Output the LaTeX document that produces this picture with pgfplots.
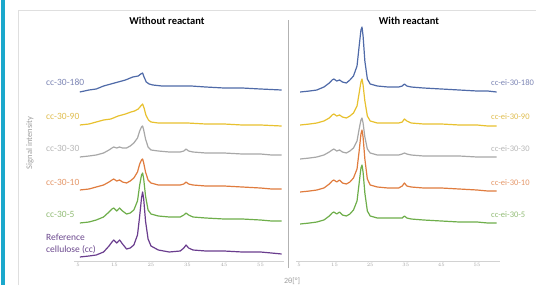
\documentclass[border=0pt]{standalone}
\usepackage{fontspec}
\setmainfont{Carlito}
\usepackage{pgfplots}
\pgfplotsset{compat=1.18}
\definecolor{cbar}{HTML}{1BA8CC}
\definecolor{cblue}{HTML}{4F6AA8}
\definecolor{cyel}{HTML}{E8C12F}
\definecolor{cgray}{HTML}{A8A8A8}
\definecolor{corg}{HTML}{E07C3E}
\definecolor{cgrn}{HTML}{6EAE4A}
\definecolor{cpur}{HTML}{6A3D8E}
\definecolor{lblue}{HTML}{7D86B5}
\definecolor{lyel}{HTML}{E0BE50}
\definecolor{lgray}{HTML}{B8B8B8}
\definecolor{lorg}{HTML}{E5986A}
\definecolor{lgrn}{HTML}{93BD77}
\definecolor{lpur}{HTML}{6D4A8F}
\pgfplotsset{
  panel/.style={
    anchor=south west, scale only axis, clip=false,
    y=1pt, ymin=0, ymax=241,
    axis y line=none, axis x line*=bottom,
    x axis line style={draw=gray!35, line width=0.8pt, -},
    xtick={5,15,25,35,45,55},
    major tick length=0pt,
    xticklabel style={font=\fontsize{4.5}{5}\selectfont, text=gray!70, yshift=1pt},
    every axis plot/.append style={line width=1.2pt, no marks, line join=round},
  }
}
\begin{document}
\begin{tikzpicture}[x=1pt,y=1pt]
\useasboundingbox (0pt,0pt) rectangle (536pt,285pt);
\fill[white] (0pt,0pt) rectangle (536pt,285pt);
\fill[cbar] (0.8pt,0pt) rectangle (4.6pt,285pt);
\draw[gray!25, line width=0.8pt] (18pt,0pt) -- (18pt,275pt) -- (536pt,275pt);
\draw[gray!60, line width=0.8pt] (288pt,17pt) -- (288pt,265pt);
\node[font=\bfseries\fontsize{10.5}{12}\selectfont] at (167pt,264pt) {Without reactant};
\node[font=\bfseries\fontsize{10.5}{12}\selectfont] at (409pt,264pt) {With reactant};
\node[rotate=90, font=\fontsize{8.5}{10}\selectfont, text=gray!75] at (30pt,142pt) {Signal intensity};
\node[font=\fontsize{8}{9}\selectfont, text=gray!75] at (292pt,4pt) {2θ[°]};

% left panel labels
\begin{scope}[font=\fontsize{9.5}{11}\selectfont]
\node[anchor=west, text=lblue, inner sep=0] at (46pt,203pt) {cc-30-180};
\node[anchor=west, text=lyel, inner sep=0] at (46pt,169pt) {cc-30-90};
\node[anchor=west, text=lgray, inner sep=0] at (46pt,137pt) {cc-30-30};
\node[anchor=west, text=lorg, inner sep=0] at (46pt,103pt) {cc-30-10};
\node[anchor=west, text=lgrn, inner sep=0] at (46pt,71pt) {cc-30-5};
\node[anchor=west, text=lpur, inner sep=0, align=left, font=\fontsize{9.5}{12}\selectfont] at (46pt,41pt) {Reference\\cellulose (cc)};
\end{scope}
% right panel labels
\begin{scope}[font=\fontsize{8.5}{10}\selectfont]
\node[anchor=west, text=lblue, inner sep=0] at (491pt,202pt) {cc-ei-30-180};
\node[anchor=west, text=lyel, inner sep=0] at (491pt,168pt) {cc-ei-30-90};
\node[anchor=west, text=lgray, inner sep=0] at (491pt,136pt) {cc-ei-30-30};
\node[anchor=west, text=lorg, inner sep=0] at (491pt,102pt) {cc-ei-30-10};
\node[anchor=west, text=lgrn, inner sep=0] at (491pt,70pt) {cc-ei-30-5};
\end{scope}

\begin{axis}[panel, at={(74.35pt,24pt)}, x=3.65pt, xmin=4, xmax=61.5]
% cc-30-180
\addplot[cblue] coordinates {(5.5,169)(8,171)(10,172)(12,175)(14,177)(16,179)(18,181)(20,184)(21.5,185)(22.2,187)(22.7,188)(23.1,184)(23.7,179)(24.5,177)(25.5,176)(28,175)(32,175)(36,175)(40,174)(45,173)(50,173)(55,172)(60.8,171)};
% cc-30-90
\addplot[cyel] coordinates {(5.5,136)(8,137)(10,139)(12,141)(14,142)(16,145)(18,147)(19.5,149)(20.5,150)(21.5,152)(22.2,155)(22.7,157)(23.1,153)(23.6,146)(24.3,141)(25,139)(27,138)(30,138)(35,138)(40,137)(45,137)(50,136)(55,136)(60.8,135)};
% cc-30-30
\addplot[cgray] coordinates {(5.5,104)(8,105)(10,106)(12,108)(13.5,111)(14.3,113)(14.8,114)(15.6,113)(16.4,114)(17.2,113)(18.3,113)(19.3,115)(20.3,118)(21.3,123)(21.9,130)(22.4,134)(22.7,135)(23.0,131)(23.5,122)(24.2,114)(25,111)(27,110)(30,109)(33,109)(34,110)(34.6,112)(35.3,110)(36.5,109)(40,108)(45,108)(50,107)(55,107)(58,106)(60.8,106)};
% cc-30-10
\addplot[corg] coordinates {(5.5,71)(8,72)(10,74)(12,76)(13.5,79)(14.3,81)(14.8,82)(15.6,80)(16.4,81)(17.2,79)(18.3,78)(19.3,80)(20.3,83)(21.3,89)(21.9,97)(22.4,101)(22.7,102)(23.0,98)(23.5,89)(24.2,81)(25,78)(27,76)(30,76)(33,76)(34,77)(34.6,79)(35.3,77)(36.5,76)(40,75)(45,75)(50,74)(55,73)(58,72)(60.8,72)};
% cc-30-5
\addplot[cgrn] coordinates {(5.5,38)(8,39)(10,41)(12,44)(13.5,49)(14.3,52)(14.8,53)(15.6,50)(16.4,53)(17.2,50)(18.3,47)(19.3,48)(20.3,51)(21.3,60)(21.9,76)(22.4,86)(22.7,88)(23.0,82)(23.5,65)(24.2,51)(25,47)(27,45)(30,44)(33,44)(34,46)(34.6,48)(35.3,46)(36.5,44)(40,43)(45,42)(50,42)(55,41)(58,40)(60.8,40)};
% reference cellulose
\addplot[cpur] coordinates {(5.5,4)(8,5)(10,6)(12,9)(13.5,15)(14.3,19)(14.8,21)(15.6,18)(16.4,21)(17.2,17)(18.3,12)(19.3,13)(20.3,16)(21.3,26)(21.9,45)(22.4,63)(22.7,69)(23.0,62)(23.5,40)(24.2,22)(25,15)(27,11)(30,9)(33,10)(34,13)(34.6,16)(35.3,13)(36.5,11)(40,10)(45,10)(50,9)(55,9)(58,8)(60.8,7)};
\end{axis}

\begin{axis}[panel, at={(296.15pt,24pt)}, x=3.56pt, xmin=4.2, xmax=61.5]
% cc-ei-30-180
\addplot[cblue] coordinates {(5.3,169)(8,170)(10,171)(12,174)(13.5,178)(14.3,181)(14.8,182)(15.6,180)(16.4,181)(17.2,179)(18.3,178)(19.3,181)(20.3,185)(21.3,195)(21.9,215)(22.4,231)(22.7,234)(23.0,225)(23.5,200)(24.2,182)(25,177)(27,175)(30,174)(33,174)(34,175)(34.6,177)(35.3,175)(36.5,174)(40,173)(45,172)(50,171)(55,170)(58,170)(60.5,169)};
% cc-ei-30-90
\addplot[cyel] coordinates {(5.3,136)(8,137)(10,138)(12,140)(13.5,143)(14.3,146)(14.8,147)(15.6,145)(16.4,146)(17.2,144)(18.3,143)(19.3,145)(20.3,148)(21.3,155)(21.9,168)(22.4,179)(22.7,182)(23.0,176)(23.5,160)(24.2,145)(25,140)(27,138)(30,138)(33,138)(34,139)(34.6,142)(35.3,140)(36.5,138)(40,137)(45,137)(50,136)(55,136)(58,135)(60.5,135)};
% cc-ei-30-30
\addplot[cgray] coordinates {(5.3,102)(8,103)(10,104)(12,106)(13.5,109)(14.3,111)(14.8,112)(15.6,110)(16.4,111)(17.2,109)(18.3,108)(19.3,110)(20.3,113)(21.3,120)(21.9,132)(22.4,141)(22.7,143)(23.0,138)(23.5,124)(24.2,112)(25,108)(27,106)(30,106)(33,106)(34,107)(34.6,108)(35.3,107)(36.5,106)(40,105)(45,105)(50,105)(55,104)(58,104)(60.5,104)};
% cc-ei-30-10
\addplot[corg] coordinates {(5.3,69)(8,70)(10,71)(12,73)(13.5,77)(14.3,80)(14.8,81)(15.6,79)(16.4,81)(17.2,78)(18.3,77)(19.3,79)(20.3,83)(21.3,92)(21.9,110)(22.4,127)(22.7,131)(23.0,124)(23.5,102)(24.2,82)(25,76)(27,74)(30,73)(33,73)(34,75)(34.6,78)(35.3,75)(36.5,74)(40,73)(45,73)(50,72)(55,71)(58,70)(60.5,70)};
% cc-ei-30-5
\addplot[cgrn] coordinates {(5.3,37)(8,38)(10,39)(12,41)(13.5,45)(14.3,48)(14.8,49)(15.6,47)(16.4,49)(17.2,46)(18.3,45)(19.3,47)(20.3,51)(21.3,60)(21.9,78)(22.4,93)(22.7,96)(23.0,89)(23.5,68)(24.2,50)(25,45)(27,43)(30,43)(33,43)(34,43)(34.6,45)(35.3,43)(36.5,42)(40,41)(45,40)(50,39)(55,39)(58,38)(60.5,38)};
\end{axis}
\end{tikzpicture}
\end{document}
